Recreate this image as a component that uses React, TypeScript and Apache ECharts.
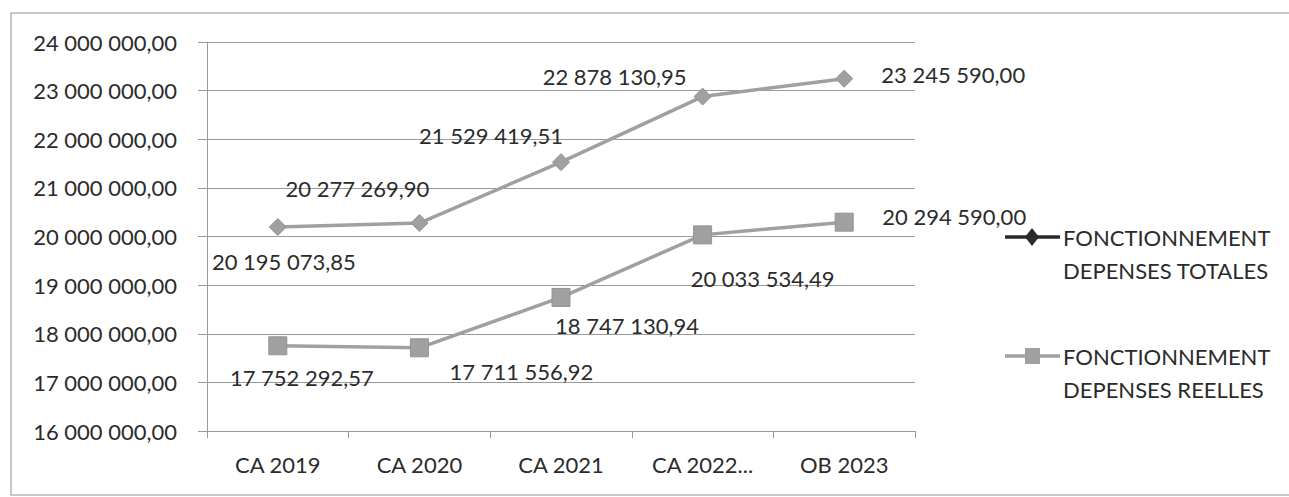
import React, { useEffect, useRef } from "react";
import * as echarts from "echarts";

const categories = ["CA 2019", "CA 2020", "CA 2021", "CA 2022...", "OB 2023"];
const depensesTotales = [20195073.85, 20277269.9, 21529419.51, 22878130.95, 23245590.0];
const depensesReelles = [17752292.57, 17711556.92, 18747130.94, 20033534.49, 20294590.0];
const seriesNames = ["FONCTIONNEMENT\nDEPENSES TOTALES", "FONCTIONNEMENT\nDEPENSES REELLES"];
const yMin = 16000000;
const yMax = 24000000;
const yInterval = 1000000;

// label offsets (layout only)
const totalOffsets = [[6, 34], [-62, -35], [-70, -27], [-88, -20], [109, -4]];
const reelOffsets = [[24, 32], [102, 24], [66, 28], [60, 44], [110, -6]];

const fmt = (v: number) => {
  const [i, d] = Math.abs(v).toFixed(2).split(".");
  const g = i.replace(/\B(?=(\d{3})+(?!\d))/g, " ");
  return (v < 0 ? "-" : "") + g + "," + d;
};

const FONT = "Lato, 'Open Sans', sans-serif";
const FS = 22;
const TXT = "#2b2b2b";
const LINE = "#a0a0a0";

export default function App() {
  const ref = useRef<HTMLDivElement>(null);
  useEffect(() => {
    if (!ref.current) return;
    const chart = echarts.init(ref.current, null, { renderer: "svg" });
    const mk = (vals: number[], offs: number[][]) =>
      vals.map((v, i) => ({
        value: v,
        label: { offset: offs[i] },
      }));
    const labelCfg = {
      show: true,
      position: "inside",
      align: "center",
      verticalAlign: "middle",
      color: TXT,
      fontSize: FS,
      fontFamily: FONT,
      formatter: (p: any) => fmt(p.value),
    };
    chart.setOption({
      animation: false,
      backgroundColor: "#ffffff",
      textStyle: { fontFamily: FONT },
      grid: { left: 207, right: 374, top: 42, bottom: 66, containLabel: false },
      xAxis: {
        type: "category",
        data: categories,
        boundaryGap: true,
        axisLine: { show: true, lineStyle: { color: "#9a9a9a", width: 1 } },
        axisTick: { show: true, length: 7, lineStyle: { color: "#9a9a9a" } },
        axisLabel: { color: TXT, fontSize: FS, fontFamily: FONT, margin: 22 },
      },
      yAxis: {
        type: "value",
        min: yMin,
        max: yMax,
        interval: yInterval,
        axisLine: { show: true, lineStyle: { color: "#9a9a9a", width: 1 } },
        axisTick: { show: true, length: 9, lineStyle: { color: "#9a9a9a" } },
        splitLine: { show: true, lineStyle: { color: "#9a9a9a", width: 1 } },
        axisLabel: { color: TXT, fontSize: FS, fontFamily: FONT, margin: 30, formatter: (v: number) => fmt(v) },
      },
      series: [
        {
          name: seriesNames[0],
          type: "line",
          data: mk(depensesTotales, totalOffsets),
          symbol: "diamond",
          symbolSize: 17,
          lineStyle: { color: LINE, width: 3.5 },
          itemStyle: { color: LINE, borderColor: "#939393", borderWidth: 1 },
          label: labelCfg,
        },
        {
          name: seriesNames[1],
          type: "line",
          data: mk(depensesReelles, reelOffsets),
          symbol: "rect",
          symbolSize: 18,
          lineStyle: { color: LINE, width: 3.5 },
          itemStyle: { color: LINE, borderColor: "#939393", borderWidth: 1 },
          label: labelCfg,
        },
      ],
      graphic: [
        {
          type: "rect",
          shape: { x: 11, y: 13, width: 1300, height: 482 },
          style: { fill: "none", stroke: "#b5b5b5", lineWidth: 1.5 },
          silent: true,
        },
        {
          type: "line",
          shape: { x1: 1005, y1: 237, x2: 1060, y2: 237 },
          style: { stroke: "#2a2a2a", lineWidth: 3.5 },
        },
        {
          type: "polygon",
          shape: { points: [[1032, 228], [1039, 237], [1032, 246], [1025, 237]] },
          style: { fill: "#2a2a2a" },
        },
        {
          type: "text",
          x: 1063,
          y: 221,
          style: {
            text: seriesNames[0],
            fill: TXT,
            font: `${FS}px ${FONT}`,
            lineHeight: 33,
            verticalAlign: "top",
          },
        },
        {
          type: "line",
          shape: { x1: 1005, y1: 356, x2: 1060, y2: 356 },
          style: { stroke: LINE, lineWidth: 3.5 },
        },
        {
          type: "rect",
          shape: { x: 1025, y: 348, width: 15, height: 16 },
          style: { fill: LINE },
        },
        {
          type: "text",
          x: 1063,
          y: 340,
          style: {
            text: seriesNames[1],
            fill: TXT,
            font: `${FS}px ${FONT}`,
            lineHeight: 33,
            verticalAlign: "top",
          },
        },
      ],
    });
    return () => chart.dispose();
  }, []);
  return (
    <div
      ref={ref}
      style={{ position: "fixed", left: 0, top: 0, width: 1289, height: 497 }}
    />
  );
}
